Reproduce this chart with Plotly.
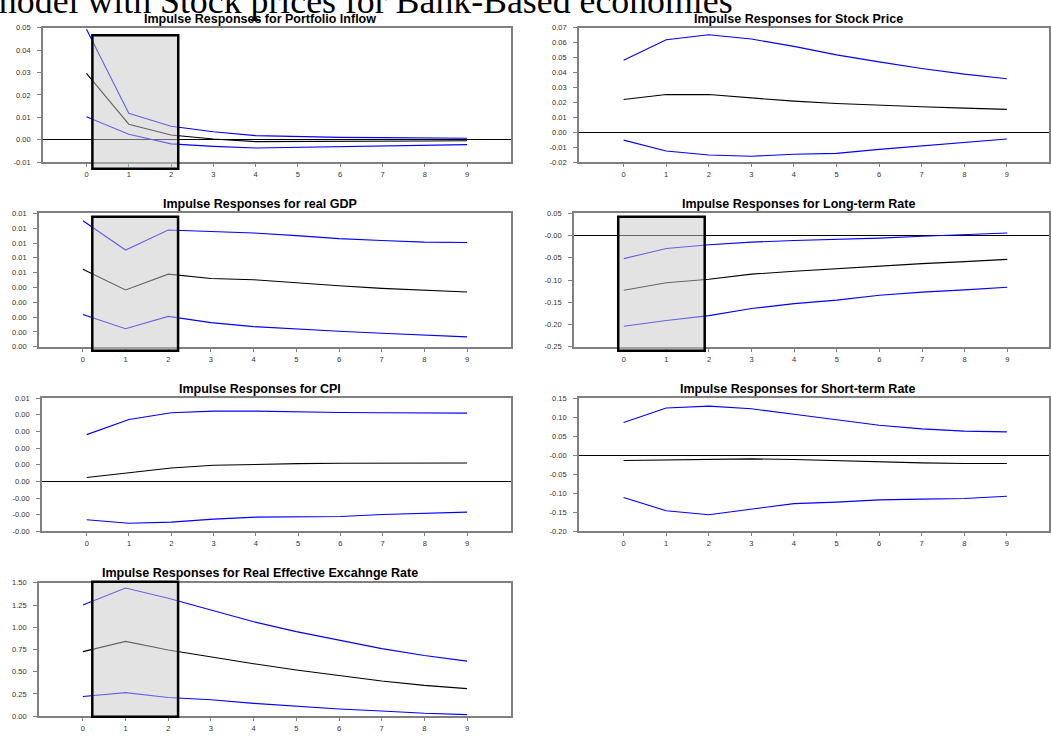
import plotly.graph_objects as go

W, H = 1051, 736

# ---------------- data ----------------
horizons = [0, 1, 2, 3, 4, 5, 6, 7, 8, 9]

titles = [
    "Impulse Responses for Portfolio Inflow",
    "Impulse Responses for Stock Price",
    "Impulse Responses for real GDP",
    "Impulse Responses for Long-term Rate",
    "Impulse Responses for CPI",
    "Impulse Responses for Short-term Rate",
    "Impulse Responses for Real Effective Excahnge Rate",
]

header_text = "model with Stock prices for Bank-Based economies"

portfolio_upper = [0.0493, 0.0118, 0.0060, 0.0035, 0.0018, 0.0013, 0.0010, 0.0009, 0.0007, 0.0006]
portfolio_mid = [0.0296, 0.0069, 0.0021, 0.0003, -0.0009, -0.0009, -0.0009, -0.0007, -0.0006, -0.0005]
portfolio_lower = [0.0102, 0.0024, -0.0019, -0.0030, -0.0037, -0.0034, -0.0030, -0.0027, -0.0024, -0.0022]

stock_upper = [0.0482, 0.0619, 0.0653, 0.0624, 0.0575, 0.0518, 0.0471, 0.0427, 0.0389, 0.0358]
stock_mid = [0.0219, 0.0252, 0.0252, 0.0230, 0.0208, 0.0192, 0.0179, 0.0170, 0.0161, 0.0153]
stock_lower = [-0.0053, -0.0126, -0.0153, -0.0161, -0.0148, -0.0142, -0.0115, -0.0093, -0.0066, -0.0046]

gdp_upper = [0.00850, 0.00653, 0.00788, 0.00777, 0.00768, 0.00750, 0.00730, 0.00717, 0.00706, 0.00704]
gdp_mid = [0.00523, 0.00383, 0.00490, 0.00461, 0.00452, 0.00430, 0.00412, 0.00394, 0.00381, 0.00370]
gdp_lower = [0.00218, 0.00122, 0.00205, 0.00163, 0.00136, 0.00118, 0.00105, 0.00091, 0.00078, 0.00067]

long_upper = [-0.0518, -0.0288, -0.0206, -0.0146, -0.0110, -0.0087, -0.0057, -0.0013, 0.0025, 0.0060]
long_mid = [-0.1230, -0.1060, -0.0980, -0.0867, -0.0800, -0.0740, -0.0689, -0.0630, -0.0585, -0.0533]
long_lower = [-0.2040, -0.1910, -0.1800, -0.1640, -0.1530, -0.1450, -0.1340, -0.1270, -0.1220, -0.1160]

cpi_upper = [0.00281, 0.00372, 0.00412, 0.00422, 0.00422, 0.00416, 0.00414, 0.00412, 0.00410, 0.00410]
cpi_mid = [0.00024, 0.00053, 0.00081, 0.00097, 0.00103, 0.00107, 0.00109, 0.00109, 0.00111, 0.00111]
cpi_lower = [-0.00230, -0.00251, -0.00244, -0.00226, -0.00214, -0.00210, -0.00210, -0.00198, -0.00190, -0.00184]

short_upper = [0.0858, 0.1240, 0.1290, 0.1220, 0.1075, 0.0936, 0.0789, 0.0693, 0.0633, 0.0615]
short_mid = [-0.0139, -0.0121, -0.0113, -0.0095, -0.0113, -0.0147, -0.0182, -0.0199, -0.0217, -0.0217]
short_lower = [-0.1110, -0.1456, -0.1560, -0.1420, -0.1270, -0.1230, -0.1170, -0.1150, -0.1135, -0.1075]

reer_upper = [1.250, 1.442, 1.327, 1.195, 1.062, 0.951, 0.852, 0.760, 0.682, 0.619]
reer_mid = [0.726, 0.841, 0.745, 0.667, 0.590, 0.520, 0.454, 0.395, 0.347, 0.310]
reer_lower = [0.221, 0.265, 0.210, 0.184, 0.144, 0.111, 0.081, 0.059, 0.033, 0.018]

# y tick values / labels
portfolio_ticks = [-0.01, 0.0, 0.01, 0.02, 0.03, 0.04, 0.05]
portfolio_labels = ["-0.01", "0.00", "0.01", "0.02", "0.03", "0.04", "0.05"]
stock_ticks = [-0.02, -0.01, 0.0, 0.01, 0.02, 0.03, 0.04, 0.05, 0.06, 0.07]
stock_labels = ["-0.02", "-0.01", "0.00", "0.01", "0.02", "0.03", "0.04", "0.05", "0.06", "0.07"]
gdp_ticks = [0.0, 0.001, 0.002, 0.003, 0.004, 0.005, 0.006, 0.007, 0.008, 0.009]
gdp_labels = ["0.00", "0.00", "0.00", "0.00", "0.00", "0.01", "0.01", "0.01", "0.01", "0.01"]
long_ticks = [-0.25, -0.20, -0.15, -0.10, -0.05, 0.0, 0.05]
long_labels = ["-0.25", "-0.20", "-0.15", "-0.10", "-0.05", "-0.00", "0.05"]
cpi_ticks = [-0.003, -0.002, -0.001, 0.0, 0.001, 0.002, 0.003, 0.004, 0.005]
cpi_labels = ["-0.00", "-0.00", "-0.00", "0.00", "0.00", "0.00", "0.00", "0.00", "0.01"]
short_ticks = [-0.20, -0.15, -0.10, -0.05, 0.0, 0.05, 0.10, 0.15]
short_labels = ["-0.20", "-0.15", "-0.10", "-0.05", "-0.00", "0.05", "0.10", "0.15"]
reer_ticks = [0.0, 0.25, 0.5, 0.75, 1.0, 1.25, 1.5]
reer_labels = ["0.00", "0.25", "0.50", "0.75", "1.00", "1.25", "1.50"]

series = [
    (portfolio_upper, portfolio_mid, portfolio_lower, portfolio_ticks, portfolio_labels),
    (stock_upper, stock_mid, stock_lower, stock_ticks, stock_labels),
    (gdp_upper, gdp_mid, gdp_lower, gdp_ticks, gdp_labels),
    (long_upper, long_mid, long_lower, long_ticks, long_labels),
    (cpi_upper, cpi_mid, cpi_lower, cpi_ticks, cpi_labels),
    (short_upper, short_mid, short_lower, short_ticks, short_labels),
    (reer_upper, reer_mid, reer_lower, reer_ticks, reer_labels),
]

# ---------------- layout geometry (pixels) ----------------
# (left, top, right, bottom) of each plot area
rects = [
    (43, 24, 512, 160),
    (580, 24, 1051, 160),
    (39, 212, 512, 347),
    (575, 212, 1051, 347),
    (42, 399, 512, 534),
    (580, 399, 1051, 534),
    (39, 586, 512, 721),
]
xranges = [
    [-1.03, 10.04],
    [-1.05, 9.99],
    [-1.03, 10.03],
    [-1.17, 9.98],
    [-1.06, 10.04],
    [-1.05, 9.99],
    [-1.03, 10.03],
]
title_pos = [(260, 15), (800, 15), (260, 202), (800, 202), (260, 390), (800, 390), (260, 576)]
# shaded boxes: (panel index, x0, x1 in data units, top px, bottom px)
boxes = [
    (0, 0.14, 2.17, 31.7, 166.7),
    (2, 0.22, 2.23, 215.3, 351.0),
    (3, -0.13, 1.90, 215.3, 351.0),
    (6, 0.22, 2.23, 585.0, 721.5),
]

FONT = "Arial, Liberation Sans, sans-serif"

fig = go.Figure()
layout = dict(
    width=W, height=H,
    margin=dict(l=0, r=0, t=0, b=0),
    paper_bgcolor="white", plot_bgcolor="white",
    showlegend=False,
    annotations=[], shapes=[],
)

for i, (up, mid, lo, ytv, ytt) in enumerate(series):
    n = i + 1
    xa = "x" if n == 1 else f"x{n}"
    ya = "y" if n == 1 else f"y{n}"
    for vals, col in ((up, "#0000ff"), (lo, "#0000ff"), (mid, "#000000")):
        fig.add_trace(go.Scatter(x=horizons, y=vals, mode="lines",
                                 line=dict(color=col, width=1.1),
                                 xaxis=xa, yaxis=ya, hoverinfo="skip"))
    l, t, r, b = rects[i]
    layout[f"xaxis{n}" if n > 1 else "xaxis"] = dict(
        domain=[l / W, r / W], range=xranges[i], anchor=ya,
        tickmode="array", tickvals=horizons, ticktext=[str(h) for h in horizons],
        ticks="outside", ticklen=3, tickcolor="#808080", tickwidth=1,
        showline=True, linecolor="#808080", linewidth=1.5, mirror=True,
        showgrid=False, zeroline=False,
        tickfont=dict(family=FONT, size=7.5, color="#333333"),
        ticklabelstandoff=1,
    )
    layout[f"yaxis{n}" if n > 1 else "yaxis"] = dict(
        domain=[1 - b / H, 1 - t / H], range=[ytv[0], ytv[-1]], anchor=xa,
        tickmode="array", tickvals=ytv, ticktext=ytt,
        ticks="outside", ticklen=4, tickcolor="#808080", tickwidth=1,
        showline=True, linecolor="#808080", linewidth=1.5, mirror=True,
        showgrid=False, zeroline=(ytv[0] < 0 < ytv[-1]),
        zerolinecolor="#000000", zerolinewidth=1.2,
        tickfont=dict(family=FONT, size=7.5, color="#333333"),
        ticklabelstandoff=5,
    )
    tx, ty = title_pos[i]
    layout["annotations"].append(dict(
        text="<b>" + titles[i] + "</b>", xref="paper", yref="paper",
        x=tx / W, y=1 - ty / H, xanchor="center", yanchor="middle",
        showarrow=False, font=dict(family=FONT, size=12.5, color="#000000"),
    ))

for (pi, x0, x1, ptop, pbot) in boxes:
    n = pi + 1
    xa = "x" if n == 1 else f"x{n}"
    layout["shapes"].append(dict(
        type="rect", xref=xa, yref="paper",
        x0=x0, x1=x1, y0=1 - pbot / H, y1=1 - ptop / H,
        fillcolor="rgba(200,200,200,0.5)",
        line=dict(color="#000000", width=2.5), layer="above",
    ))

layout["annotations"].append(dict(
    text=header_text, xref="paper", yref="paper",
    x=-13 / W, y=1 + 3 / H, xanchor="left", yanchor="middle",
    showarrow=False, font=dict(family="Liberation Serif, Times New Roman, serif", size=35.8, color="#000000"),
))

fig.update_layout(**layout)
fig.write_html("out.html")
